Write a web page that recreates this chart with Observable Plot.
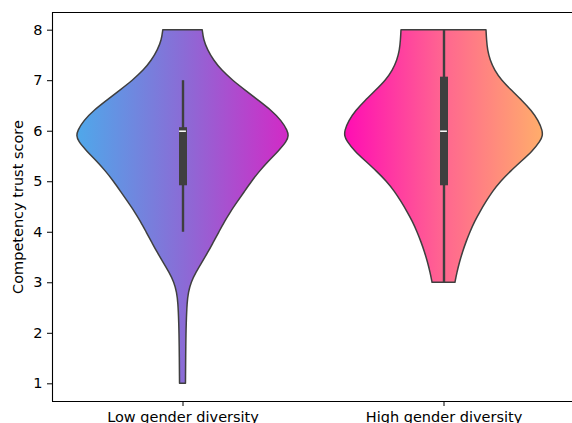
<!DOCTYPE html>
<html><head><meta charset="utf-8">
<script src="https://cdn.jsdelivr.net/npm/d3@7"></script>
<script src="https://cdn.jsdelivr.net/npm/@observablehq/plot@0.6"></script>
<style>html,body{margin:0;padding:0;background:#fff;overflow:hidden;}</style>
</head><body><div id="chart"></div>
<script>
const categories = ["Low gender diversity", "High gender diversity"];
const yTicks = [1, 2, 3, 4, 5, 6, 7, 8];

// Violin outlines: score and relative density (widest = 1)
const lowScores  = [8.0, 7.8, 7.6, 7.4, 7.2, 7.0, 6.8, 6.6, 6.4, 6.2, 6.0, 5.9, 5.8, 5.6, 5.4, 5.2, 5.0, 4.8, 4.6, 4.4, 4.2, 4.0, 3.8, 3.6, 3.4, 3.2, 3.0, 2.8, 2.6, 2.2, 1.8, 1.0];
const lowDensity = [0.186, 0.198, 0.236, 0.292, 0.368, 0.472, 0.594, 0.717, 0.840, 0.934, 0.991, 1.0, 0.986, 0.906, 0.811, 0.726, 0.651, 0.585, 0.519, 0.453, 0.396, 0.344, 0.292, 0.241, 0.184, 0.127, 0.080, 0.055, 0.043, 0.035, 0.031, 0.028];
const highScores  = [8.0, 7.8, 7.6, 7.4, 7.2, 7.0, 6.8, 6.6, 6.4, 6.2, 6.0, 5.9, 5.8, 5.6, 5.4, 5.2, 5.0, 4.8, 4.6, 4.4, 4.2, 4.0, 3.8, 3.6, 3.4, 3.2, 3.0];
const highDensity = [0.401, 0.406, 0.415, 0.439, 0.481, 0.547, 0.642, 0.741, 0.830, 0.896, 0.934, 0.934, 0.915, 0.840, 0.736, 0.632, 0.538, 0.462, 0.401, 0.344, 0.292, 0.250, 0.212, 0.179, 0.151, 0.127, 0.108];

// Inner box plots
const q1 = [4.92, 4.92];
const q3 = [6.07, 7.07];
const medians = [6, 6];
const whiskerLow = [4, 3];
const whiskerHigh = [7, 8];

const maxHalfWidth = 0.406; // in category units
const gradients = [
  {id: "gradLow", from: "#4fa8ea", mid: "#8a6cd6", to: "#d22ac6"},
  {id: "gradHigh", from: "#ff0db4", mid: "#ff6690", to: "#ffad6b"}
];

const lowRows = lowScores.map((y, i) => ({pos: 0, y, d: lowDensity[i]}));
const highRows = highScores.map((y, i) => ({pos: 1, y, d: highDensity[i]}));
const boxRows = categories.map((c, i) => ({pos: i, q1: q1[i], q3: q3[i], median: medians[i], lo: whiskerLow[i], hi: whiskerHigh[i]}));

const defsMark = () => {
  const ns = "http://www.w3.org/2000/svg";
  const defs = document.createElementNS(ns, "defs");
  for (const g of gradients) {
    const lg = document.createElementNS(ns, "linearGradient");
    lg.setAttribute("id", g.id);
    lg.setAttribute("x1", "0"); lg.setAttribute("x2", "1");
    lg.setAttribute("y1", "0"); lg.setAttribute("y2", "0");
    [[0, g.from], [0.5, g.mid], [1, g.to]].forEach(([o, c]) => {
      const s = document.createElementNS(ns, "stop");
      s.setAttribute("offset", o);
      s.setAttribute("stop-color", c);
      lg.appendChild(s);
    });
    defs.appendChild(lg);
  }
  return defs;
};

const violin = (rows, fillId) => Plot.areaX(rows, {
  y: "y",
  x1: d => d.pos - d.d * maxHalfWidth,
  x2: d => d.pos + d.d * maxHalfWidth,
  fill: `url(#${fillId})`,
  stroke: "#3f3f3f",
  strokeWidth: 1.5,
  curve: "basis"
});

const chart = Plot.plot({
  width: 572,
  height: 423,
  marginLeft: 52,
  marginRight: 0,
  marginTop: 12,
  marginBottom: 22,
  style: {fontFamily: "DejaVu Sans", fontSize: "14.5px", color: "black", background: "white"},
  x: {domain: [-0.5, 1.5], range: [52, 574]},
  y: {domain: [0.65, 8.35]},
  marks: [
    defsMark,
    violin(lowRows, "gradLow"),
    violin(highRows, "gradHigh"),
    Plot.ruleX(boxRows, {x: "pos", y1: "lo", y2: "hi", stroke: "#3f3f3f", strokeWidth: 2.4}),
    Plot.ruleX(boxRows, {x: "pos", y1: "q1", y2: "q3", stroke: "#3f3f3f", strokeWidth: 8}),
    Plot.ruleY(boxRows, {y: "median", x1: d => d.pos - 0.013, x2: d => d.pos + 0.013, stroke: "white", strokeWidth: 1.5}),
    Plot.ruleX([-0.5], {stroke: "black", strokeWidth: 1.1}),
    Plot.ruleY([0.65, 8.35], {stroke: "black", strokeWidth: 1.1}),
    Plot.axisY({ticks: yTicks, tickSize: 5, tickPadding: 5, fontSize: 14.5, fontFamily: "DejaVu Sans", label: "Competency trust score", labelAnchor: "center", labelArrow: "none", labelOffset: 40}),
    Plot.axisX({ticks: [0, 1], tickFormat: i => categories[i], tickSize: 5, tickPadding: 5, fontSize: 14.5, fontFamily: "DejaVu Sans", label: null})
  ]
});
document.getElementById("chart").appendChild(chart);
</script>
</body></html>
